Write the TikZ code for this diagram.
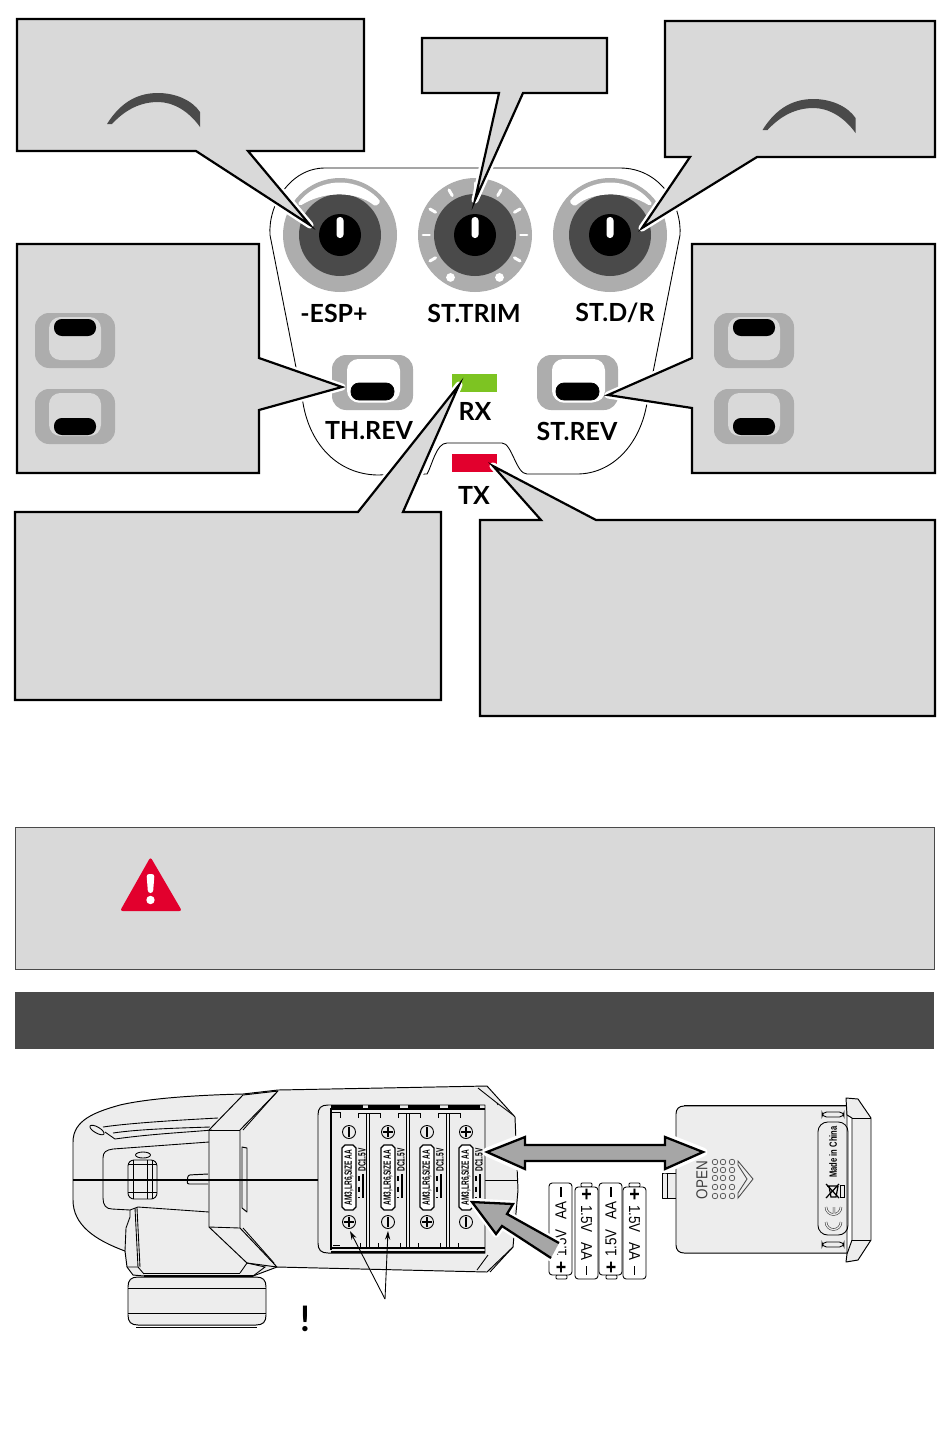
\documentclass[tikz,border=0pt]{standalone}
\usepackage{fontspec}
\setmainfont{Lato}
\newfontfamily\narrowfont[FakeStretch=0.72]{Liberation Sans}
\newfontfamily\cellfont[FakeStretch=0.62]{Liberation Sans}
\newfontfamily\battfont[FakeStretch=0.85]{Liberation Sans}
\usetikzlibrary{
  arrows.meta,
  positioning,
  calc
}
\definecolor{rcpanel}{HTML}{D9D9D9}
\definecolor{rcknob}{HTML}{ADADAD}
\definecolor{rcdark}{HTML}{4A4A4A}
\definecolor{rcbody}{HTML}{EDEDED}
\definecolor{rcgreen}{HTML}{7DC422}
\definecolor{rcred}{HTML}{E2002D}
\definecolor{rcarrow}{HTML}{A6A6A6}

\begin{document}
\begin{tikzpicture}[
      x=0.02cm, y=-0.02cm,
      callout/.style={
        draw=black, line width=1.25pt, fill=rcpanel, line join=miter, miter limit=25,
        preaction={draw=white, line width=4pt, line join=round}
      },
      ctrl/.style={font=\bfseries\fontsize{14.2}{16}\selectfont},
      thinline/.style={draw=black, line width=0.5pt},
      bodyline/.style={draw=black, line width=0.55pt, fill=rcbody, line join=round},
      heavyarrow/.style={
        draw=black, line width=1.3pt, fill=rcarrow, line join=miter, miter limit=25,
        preaction={draw=white, line width=5pt, line join=round}
      },
      cellink/.style={font=\cellfont\bfseries\fontsize{6}{7}\selectfont, inner sep=0pt, rotate=90},
      batttext/.style={font=\battfont\fontsize{9}{10}\selectfont, inner sep=0pt},
      battsign/.style={font=\battfont\bfseries\fontsize{12}{12}\selectfont, inner sep=0pt}
    ]
      \useasboundingbox (0,0) rectangle (950,1444);
      \fill[white] (0,0) rectangle (950,1444);

      % Case outline
      \draw[thinline] (303,403) .. controls (310,445) and (338,474) .. (377,475) -- (427,474)
        .. controls (432,466) and (436,443) .. (447,443) -- (502,443)
        .. controls (512,443) and (516,474) .. (527,474) -- (577,474)
        .. controls (612,474) and (640,445) .. (647,403) -- (680,235)
        .. controls (682,205) and (660,168) .. (620,168) -- (325,168)
        .. controls (290,168) and (268,205) .. (270,235) -- cycle;

      % Knobs
      \foreach \kx/\kname in {340/esp, 475/trim, 610/rate} {
        \fill[rcknob] (\kx,235) circle (57);
        \fill[rcdark] (\kx,235) circle (41);
        \fill[black] (\kx,235) circle (21);
        \fill[white, rounded corners=1.9pt] (\kx-3.5,217) rectangle (\kx+3.5,238);
      }
      \fill[white, rounded corners=1pt] ($(340,235)+(216:52.5)$) arc[start angle=216, end angle=321, radius=52.5]
        -- ($(340,235)+(321:45.5)$) .. controls ($(340,235)+(290:47)$) and ($(340,235)+(250:47)$) .. ($(340,235)+(216:49.5)$) -- cycle;
      \fill[white, rounded corners=1pt] ($(610,235)+(324:52.5)$) arc[start angle=324, end angle=219, radius=52.5]
        -- ($(610,235)+(219:45.5)$) .. controls ($(610,235)+(250:47)$) and ($(610,235)+(290:47)$) .. ($(610,235)+(324:49.5)$) -- cycle;
      \foreach \ang in {0,30,150,180,210,240,270,300,330}
        \draw[white, line width=1.7pt, line cap=round] ($(475,235)+(\ang:45.5)$) -- ($(475,235)+(\ang:52)$);
      \foreach \ang in {60,120}
        \fill[white] ($(475,235)+(\ang:49)$) circle (4.4);

      % Switches
      \foreach \sx/\sy in {332/355, 537/355} {
        \fill[rcknob, rounded corners=8pt] (\sx,\sy) rectangle (\sx+81,\sy+55);
        \fill[white, rounded corners=6.5pt] (\sx+15,\sy+4) rectangle (\sx+68,\sy+47);
        \draw[black, fill=black, rounded corners=4.5pt, preaction={draw=white, line width=3pt}]
          (\sx+19,\sy+28) rectangle (\sx+62,\sy+45);
      }

      % Lamps
      \fill[rcgreen] (452,374) rectangle (497,392);
      \fill[rcred] (452,454) rectangle (497,472);

      % Callouts
      \draw[callout] (17,19) -- (364,19) -- (364,151) -- (248,151) -- (310,225) -- (196,151) -- (17,151) -- cycle;
      \draw[callout] (422,38) -- (607,38) -- (607,93) -- (523,93) -- (475,200) -- (499,93) -- (422,93) -- cycle;
      \draw[callout] (665,21) -- (935,21) -- (935,157) -- (757,157) -- (642,228) -- (690,157) -- (665,157) -- cycle;
      \draw[callout] (17,244) -- (259,244) -- (259,358) -- (342,387) -- (259,410) -- (259,473) -- (17,473) -- cycle;
      \draw[callout] (692,244) -- (935,244) -- (935,473) -- (692,473) -- (692,408) -- (608,395) -- (692,358) -- cycle;
      \draw[callout] (15,512) -- (358,512) -- (459,385) -- (403,512) -- (441,512) -- (441,700) -- (15,700) -- cycle;
      \draw[callout] (480,520) -- (541,520) -- (493,466) -- (596,520) -- (935,520) -- (935,716) -- (480,716) -- cycle;

      % Arcs in the callouts
      \foreach \ax/\ay in {0/0, 655.5/6}
        \fill[rcdark, shift={(\ax,\ay)}] (107,124) .. controls (122,100) and (140,93) .. (158,93)
          .. controls (175,93) and (192,100) .. (200,112) -- (200,127)
          .. controls (188,110) and (172,102) .. (158,102) .. controls (140,102) and (125,110) .. (112,124) -- cycle;

      % Switches in the callouts
      \foreach \sx/\sy/\ptop in {35/313/6, 35/389/29, 714/313/6, 714/389/29} {
        \fill[rcknob, rounded corners=8pt] (\sx,\sy) rectangle (\sx+80,\sy+55);
        \fill[rcpanel, rounded corners=6.5pt] (\sx+14,\sy+4) rectangle (\sx+66,\sy+47);
        \fill[black, rounded corners=4.5pt] (\sx+19,\sy+\ptop) rectangle (\sx+61,\sy+\ptop+17);
      }

      % Labels
      \node[ctrl] (esp) at (334,313) {-ESP+};
      \node[ctrl] (trim) at (474,313) {ST.TRIM};
      \node[ctrl] (rate) at (615,313) {ST.D/R};
      \node[ctrl] (threv) at (369,431) {TH.REV};
      \node[ctrl] (strev) at (577,431) {ST.REV};
      \node[ctrl] (rx) at (475,411) {RX};
      \node[ctrl] (tx) at (474,495) {TX};

      % Warning and heading bars
      \draw[draw=rcdark, line width=0.5pt, fill=rcpanel] (15,827) rectangle (934,969);
      \fill[rcred, rounded corners=1.5pt] (150.5,857) -- (182,911) -- (120,911) -- cycle;
      \fill[white, rounded corners=1.5pt] (146.5,874) -- (154.5,874) -- (153,893) -- (148,893) -- cycle;
      \fill[white] (150.5,900) circle (4.2);
      \fill[rcdark] (15,992) rectangle (934,1049);

      % Transmitter body
      \draw[bodyline] (125,1251) .. controls (95,1240) and (73,1225) .. (73,1200) -- (73,1142)
        .. controls (73,1120) and (95,1112) .. (120,1105) .. controls (150,1098) and (200,1095) .. (243,1094)
        -- (278,1090) -- (487,1086) -- (515,1117) -- (518,1190) -- (513,1247) -- (487,1272) -- (277,1267)
        -- (253,1276) -- (144,1276) -- (133,1275) -- (127,1267) -- cycle;
      \draw[bodyline] (128,1287) .. controls (128,1280) and (131,1277) .. (138,1277) -- (256,1277)
        .. controls (263,1277) and (266,1280) .. (266,1287) -- (266,1315) .. controls (266,1322) and (263,1325) .. (256,1325)
        -- (138,1325) .. controls (131,1325) and (128,1322) .. (128,1315) -- cycle;
      \draw[thinline] (128,1288) -- (266,1288);
      \draw[thinline] (128,1313) -- (266,1313);
      \draw[thinline] (136,1327) -- (257,1327);
      \draw[black, line width=1.4pt] (144,1276) -- (253,1276);
      \draw[thinline] (144,1273) -- (240,1273);

      % Collar and grip
      \draw[bodyline] (209,1130) -- (243,1095) -- (278,1091) -- (240,1130) -- (240,1228) -- (277,1267) -- (247,1263) -- (209,1227) -- cycle;
      \draw[thinline] (209,1130) -- (240,1130);
      \draw[thinline] (209,1227) -- (240,1228);
      \draw[thinline] (243,1130) -- (275,1094);
      \draw[thinline] (243,1228) -- (274,1263);
      \draw[bodyline] (242,1147) -- (247,1148) -- (247,1212) -- (242,1208) -- cycle;
      \draw[thinline] (138,1207) -- (130,1210) -- (130,1217) -- (126,1228) -- (125,1251);
      \draw[thinline] (137,1208) -- (140,1267) (135,1208) -- (138,1267);
      \draw[thinline] (127,1267) -- (138,1267) -- (144,1274);
      \draw[thinline] (240,1273) -- (247,1263) -- (265,1267) -- (253,1276);
      \draw[thinline] (209,1142) -- (113,1149) .. controls (106,1150) and (103,1152) .. (103,1158) -- (103,1198)
        .. controls (103,1205) and (106,1209) .. (112,1209) -- (130,1210);
      \draw[thinline] (138,1207) -- (209,1212);
      \draw[thinline] (103,1127) .. controls (130,1123) and (180,1120) .. (218,1118);
      \draw[thinline] (113,1133) .. controls (140,1129) and (180,1128) .. (210,1127);
      \draw[thinline] (105,1132) -- (115,1139) .. controls (150,1134) and (190,1132) .. (212,1130);
      \draw[thinline, rotate around={-30:(97,1130)}] (97,1130) ellipse (8 and 3);
      \draw[thinline, rounded corners=3.4pt] (128,1160) rectangle (157,1199);
      \draw[thinline] (133,1160) -- (133,1199) (147,1160) -- (147,1199) (152,1160) -- (152,1199) (128,1164) -- (157,1164) (128,1192) -- (157,1192);
      \draw[thinline] (143,1155) ellipse (7.5 and 3);
      \draw[bodyline, rounded corners=1.2pt] (208,1174) -- (188,1175) -- (187,1184) -- (208,1184);
      \draw[thinline] (477,1270) -- (488,1255);
      \draw[thinline] (478,1088) -- (497,1103) -- (498,1105);
      \draw[thinline] (497,1103) -- (513,1115);
      \draw[thinline] (490,1272) -- (513,1247);

      % Centre line
      \draw[black, line width=1.1pt] (73,1180) -- (331,1180);
      \draw[thinline] (485,1180) -- (517,1180);

      % Battery bay
      \draw[bodyline] (485,1105) -- (328,1105) .. controls (321,1105) and (318,1108) .. (318,1115) -- (318,1243)
        .. controls (318,1250) and (321,1253) .. (328,1253) -- (485,1253) -- cycle;
      \foreach \bx in {331,368,408,448}
        \draw[black, line width=1.3pt] (\bx,1106.5) -- (\bx+32,1106.5);
      \draw[black, line width=1.3pt] (331,1252) -- (485,1252);
      \draw[black, line width=0.6pt] (331,1248) -- (485,1248);
      \draw[black, line width=0.6pt] (331,1109) -- (485,1109);
      \draw[black, line width=0.7pt] (331,1108) -- (331,1250);
      \draw[thinline] (332,1112) -- (340,1112) -- (340,1118) (333,1245) -- (340,1245);
      \foreach \dx in {368,408,448} {
        \draw[black, line width=0.5pt, double=rcbody, double distance=1.1pt] (\dx,1113) -- (\dx,1247);
        \draw[thinline] (\dx-10,1118) -- (\dx-10,1113) -- (\dx+12,1113) (\dx+12,1113) -- (\dx+12,1118);
        \draw[thinline] (\dx-8,1243) -- (\dx-8,1248) (\dx+10,1243) -- (\dx+10,1248);
      }
      \foreach \cx/\topsign/\botsign in {349/0/1, 388/1/0, 427/0/1, 466/1/0} {
        \draw[thinline] (\cx,1132) circle (6.5);
        \draw[thinline] (\cx,1222) circle (6.5);
        \draw[black, line width=0.7pt] (\cx,1127) -- (\cx,1137) (\cx,1217) -- (\cx,1227);
        \ifnum\topsign=1 \draw[black, line width=0.7pt] (\cx-5,1132) -- (\cx+5,1132); \fi
        \ifnum\botsign=1 \draw[black, line width=0.7pt] (\cx-5,1222) -- (\cx+5,1222); \fi
        \draw[black, line width=0.7pt, fill=white]
          (\cx-7,1148) -- (\cx-4,1145) -- (\cx+4,1145) -- (\cx+7,1148) -- (\cx+7,1207) -- (\cx+4,1210) -- (\cx-4,1210) -- (\cx-7,1207) -- cycle;
        \node[cellink] (cell\cx) at (\cx,1177.5) {AM3,LR6,SIZE AA};
        \node[cellink] (volt\cx) at (\cx+13,1160) {DC1.5V};
        \draw[black, line width=0.7pt, dashed] (\cx+10,1176) -- (\cx+10,1198);
        \draw[black, line width=0.7pt] (\cx+14,1174) -- (\cx+14,1198);
      }

      % Leader lines
      \coordinate (fork) at (385,1299);
      \draw[-{Stealth[length=5pt,width=3pt]}, thinline] (fork) -- (350,1231);
      \draw[-{Stealth[length=5pt,width=3pt]}, thinline] (fork) -- (388,1231);
      \node[font=\bfseries\fontsize{20}{20}\selectfont, inner sep=0pt] (mark) at (305,1319) {!};

      % Cells
      \foreach \bx/\flip in {549/0, 575/1, 599/0, 623/1} {
        \ifnum\flip=0
          \draw[thinline, fill=white, rounded corners=0.6pt] (\bx+7,1275) rectangle (\bx+18,1279);
          \draw[thinline, fill=white, rounded corners=1.8pt] (\bx,1183) rectangle (\bx+23,1275);
          \node[batttext, rotate=90] (batt\bx) at (\bx+12,1229) {1.5V\hspace{5.7pt}AA};
          \draw[black, line width=1pt] (\bx+12,1187) -- (\bx+12,1197);
          \node[battsign] (plus\bx) at (\bx+12,1268) {+};
        \else
          \draw[thinline, fill=white, rounded corners=0.6pt] (\bx+6,1183) rectangle (\bx+17,1187);
          \draw[thinline, fill=white, rounded corners=1.8pt] (\bx,1187) rectangle (\bx+23,1279);
          \node[batttext, rotate=-90] (batt\bx) at (\bx+11.5,1233) {1.5V\hspace{5.7pt}AA};
          \draw[black, line width=1pt] (\bx+11.5,1266) -- (\bx+11.5,1275);
          \node[battsign] (plus\bx) at (\bx+11.5,1195) {+};
        \fi
      }

      % Battery cover
      \draw[bodyline] (662,1173) -- (676,1173) -- (676,1198) -- (662,1198) -- cycle;
      \draw[thinline] (667,1173) -- (667,1198);
      \draw[bodyline] (676,1114) .. controls (676,1109) and (679,1106) .. (684,1106) -- (847,1106)
        -- (847,1253) -- (684,1253) .. controls (679,1253) and (676,1250) .. (676,1245) -- cycle;
      \draw[black, line width=1pt] (684,1105.5) -- (846,1105.5);
      \draw[bodyline] (846,1098) -- (858,1099) -- (871,1118) -- (871,1240) -- (858,1260) -- (846,1262) -- (847,1254) -- (852,1240) -- (852,1118) -- (847,1115) -- cycle;
      \draw[thinline] (852,1118) -- (871,1118) (852,1240) -- (871,1240);
      \draw[thinline, rounded corners=2.6pt] (822,1112) rectangle (844,1117);
      \draw[thinline, rounded corners=2.6pt] (822,1242) rectangle (844,1247);
      \draw[thinline, rounded corners=5.5pt] (818,1122) rectangle (848,1235);
      \node[font=\narrowfont\bfseries\fontsize{6}{7}\selectfont, rotate=90, inner sep=0pt] (made) at (833,1152) {Made in China};
      \draw[black, line width=0.7pt] (827,1186) -- (838,1186) (829,1186) -- (831,1197) -- (836,1197) -- (838,1186);
      \draw[black, line width=0.7pt] (826,1184) -- (839,1198) (839,1184) -- (826,1198);
      \draw[thinline] (840,1185) rectangle (844,1197);
      % CE mark, opening toward the top
      \draw[black!75, line width=0.35pt, double=rcbody, double distance=0.7pt] (826,1222) arc[start angle=180, end angle=0, radius=7.5];
      \draw[black!75, line width=0.35pt, double=rcbody, double distance=0.7pt] (826,1207) arc[start angle=180, end angle=0, radius=7.5] (834,1214) -- (834,1207);
      \node[font=\battfont\fontsize{9}{9}\selectfont, rotate=90, inner sep=0pt, text=black!75] (open) at (702,1180) {OPEN};
      \foreach \dx in {715,723,732}
        \foreach \dy in {1162,1170,1178,1187,1196}
          \draw[black!70, line width=0.4pt] (\dx,\dy) circle (2.8);
      \draw[black!70, line width=0.5pt] (738,1161) -- (753,1179) -- (738,1198) -- (738,1193) -- (747,1179) -- (738,1165) -- cycle;

      % Big arrows
      \draw[heavyarrow] (487,1152) -- (525,1137) -- (525,1145) -- (665,1145) -- (665,1137) -- (703,1152) -- (665,1169) -- (665,1161) -- (525,1161) -- (525,1169) -- cycle;
      \fill[rcarrow, preaction={draw=white, line width=4pt, line join=round}] (472,1202) -- (513,1204) -- (507,1214) -- (559,1243) -- (551,1258) -- (502,1226) -- (496,1234) -- cycle;
      \draw[black, line width=1.3pt, line join=miter, miter limit=25] (559,1243) -- (507,1214) -- (513,1204) -- (472,1202) -- (496,1234) -- (502,1226) -- (551,1258);
    \end{tikzpicture}
\end{document}
